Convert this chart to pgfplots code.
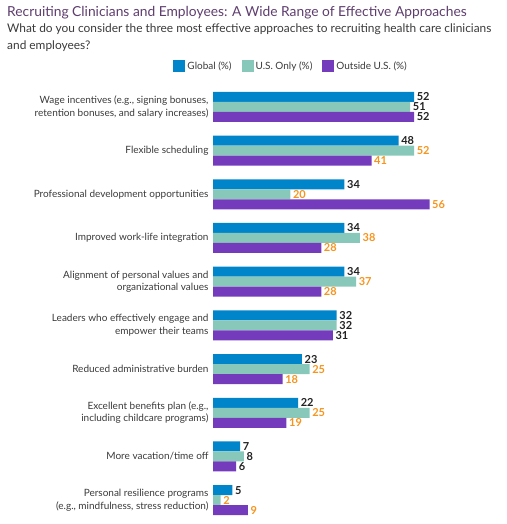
\documentclass[border=0pt]{standalone}
\usepackage{pgfplots}
\pgfplotsset{compat=1.18}
\usepackage{pgfplotstable}
\usepackage{fontspec}
\setmainfont{Lato}

\definecolor{cglobal}{HTML}{0085CA}
\definecolor{cus}{HTML}{88C8BA}
\definecolor{coutside}{HTML}{753BBD}
\definecolor{lblorange}{HTML}{F7941D}
\definecolor{lbldark}{HTML}{222222}
\definecolor{txtgray}{HTML}{3A3A3A}
\definecolor{titlepurple}{HTML}{5E3D6E}

% y = approach index (0 = top), v = percent, c = 1 for highlighted label
\pgfplotstableread{
y v c
0 52 0
1 48 0
2 34 0
3 34 0
4 34 0
5 32 0
6 23 0
7 22 0
8 7 0
9 5 0
}\globaldata
\pgfplotstableread{
y v c
0 51 0
1 52 1
2 20 1
3 38 1
4 37 1
5 32 0
6 25 1
7 25 1
8 8 0
9 2 1
}\usdata
\pgfplotstableread{
y v c
0 52 0
1 41 1
2 56 1
3 28 1
4 28 1
5 31 0
6 18 1
7 19 1
8 6 0
9 9 1
}\outsidedata

\begin{document}
\begin{tikzpicture}
\path[use as bounding box] (0pt,0pt) rectangle (506pt,-524pt);

\node[anchor=west, text=titlepurple, font=\fontsize{13.8}{17}\selectfont, inner sep=0] at (7pt,-13pt) {Recruiting Clinicians and Employees: A Wide Range of Effective Approaches};
\node[anchor=north west, align=left, text=txtgray, font=\fontsize{11.9}{16.5}\selectfont, inner sep=0] at (7pt,-24pt) {What do you consider the three most effective approaches to recruiting health care clinicians\\and employees?};

\begin{axis}[
  anchor=south west, at={(213pt,-522pt)},
  scale only axis,
  width=232pt, height=437pt,
  xbar, bar width=10pt,
  xmin=0, xmax=60,
  ymin=-0.5, ymax=9.5,
  y dir=reverse,
  hide x axis,
  axis y line*=left,
  y axis line style={draw=none},
  ytick={0,...,9},
  major tick length=0pt,
  yticklabel style={align=right, text=txtgray, font=\fontsize{10}{12.5}\selectfont, xshift=-1pt},
  yticklabels={
    {Wage incentives (e.g., signing bonuses,\\retention bonuses, and salary increases)},
    {Flexible scheduling},
    {Professional development opportunities},
    {Improved work-life integration},
    {Alignment of personal values and\\organizational values},
    {Leaders who effectively engage and\\empower their teams},
    {Reduced administrative burden},
    {Excellent benefits plan (e.g.,\\including childcare programs)},
    {More vacation/time off},
    {Personal resilience programs\\(e.g., mindfulness, stress reduction)}
  },
  /pgf/number format/assume math mode=true,
  visualization depends on={\thisrow{c} \as \lc},
  nodes near coords={\ifdim\lc pt>0.5pt\color{lblorange}\fi\pgfmathprintnumber{\pgfplotspointmeta}},
  every node near coord/.append style={text=lbldark, font=\fontsize{11}{12}\bfseries\selectfont, inner sep=2.5pt},
  legend columns=3,
  legend style={draw=none, at={(0.337,1.043)}, anchor=center, font=\fontsize{10}{11}\selectfont, text=txtgray,
    /tikz/every even column/.append style={column sep=8pt}},
  legend image code/.code={\fill[#1] (0pt,-6pt) rectangle (12pt,6pt);},
  clip=false,
]
\addplot[draw=none, fill=cglobal, bar shift=10pt] table[x=v, y=y] {\globaldata};
\addplot[draw=none, fill=cus, bar shift=0pt] table[x=v, y=y] {\usdata};
\addplot[draw=none, fill=coutside, bar shift=-10pt] table[x=v, y=y] {\outsidedata};
\legend{Global (\%), U.S. Only (\%), Outside U.S. (\%)}
\end{axis}
\end{tikzpicture}
\end{document}
